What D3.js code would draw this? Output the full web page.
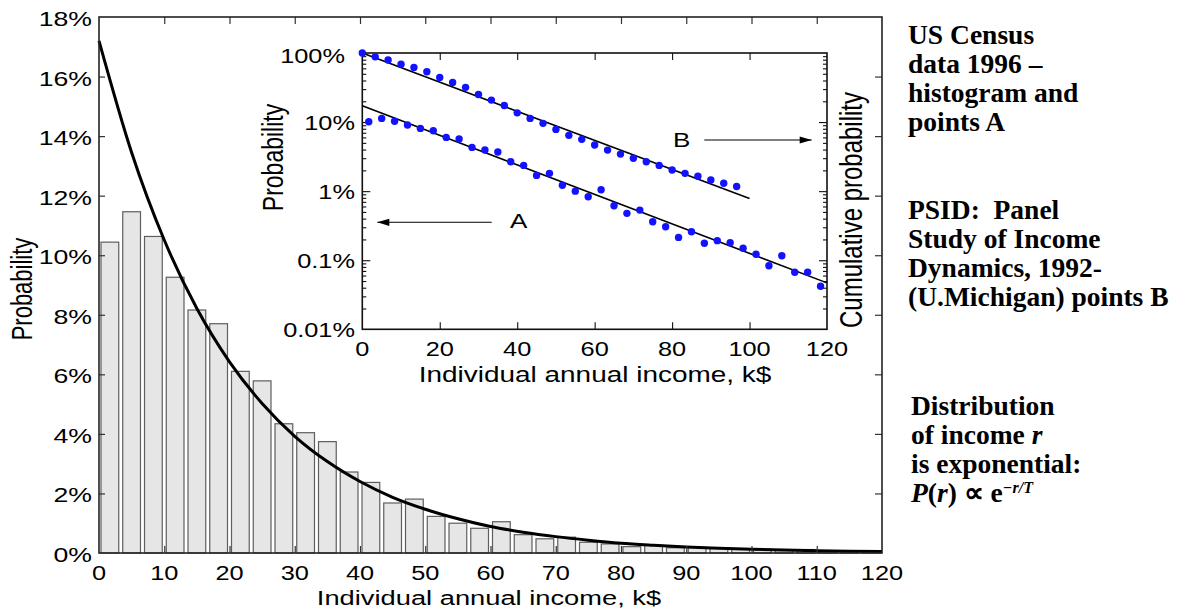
<!DOCTYPE html>
<html><head><meta charset="utf-8">
<script src="https://cdn.jsdelivr.net/npm/d3@7"></script>
<style>body{margin:0;background:#fff} svg{display:block}</style>
</head><body>
<svg id="c" width="1180" height="612"></svg>
<script>
// ---------- data ----------
const binStart = [0, 3.333, 6.667, 10, 13.333, 16.667, 20, 23.333, 26.667, 30, 33.333, 36.667,
  40, 43.333, 46.667, 50, 53.333, 56.667, 60, 63.333, 66.667, 70, 73.333, 76.667,
  80, 83.333, 86.667, 90, 93.333, 96.667, 100, 103.333, 106.667, 110, 113.333, 116.667];
const binWidth = 3.333;
const histPct = [10.44, 11.46, 10.63, 9.26, 8.16, 7.70, 6.10, 5.78, 4.34, 4.04, 3.74, 2.72,
  2.37, 1.68, 1.81, 1.23, 1.00, 0.83, 1.05, 0.615, 0.477, 0.532, 0.361, 0.305,
  0.214, 0.259, 0.176, 0.192, 0.179, 0.149, 0.122, 0.083, 0.116, 0.067, 0.067, 0.042];

const curveX = [0, 5, 10, 15, 20, 25, 30, 35, 40, 45, 50, 55, 60, 65, 70, 75, 80, 85, 90, 95, 100, 105, 110, 115, 120];
const curveY = [17.2, 13.45, 10.51, 8.21, 6.42, 5.02, 3.92, 3.07, 2.40, 1.87, 1.47, 1.15, 0.89, 0.70, 0.55, 0.43, 0.33, 0.26, 0.20, 0.16, 0.125, 0.098, 0.076, 0.060, 0.047];

const pointsAx = [1.667, 5, 8.333, 11.667, 15, 18.333, 21.667, 25, 28.333, 31.667, 35, 38.333,
  41.667, 45, 48.333, 51.667, 55, 58.333, 61.667, 65, 68.333, 71.667, 75, 78.333,
  81.667, 85, 88.333, 91.667, 95, 98.333, 101.667, 105, 108.333, 111.667, 115, 118.333];
const pointsAy = [10.1, 11.3, 10.3, 9.06, 8.1, 7.48, 6.0, 5.68, 4.3, 3.94, 3.68, 2.67,
  2.36, 1.69, 1.81, 1.22, 1.0, 0.83, 1.05, 0.615, 0.477, 0.532, 0.361, 0.305,
  0.214, 0.259, 0.176, 0.192, 0.179, 0.149, 0.122, 0.083, 0.116, 0.067, 0.067, 0.042];

const pointsBx = [0, 3.333, 6.667, 10, 13.333, 16.667, 20, 23.333, 26.667, 30, 33.333, 36.667,
  40, 43.333, 46.667, 50, 53.333, 56.667, 60, 63.333, 66.667, 70, 73.333, 76.667,
  80, 83.333, 86.667, 90, 93.333, 96.667];
const pointsBy = [100, 88, 79, 69, 61.8, 53.5, 44.3, 37.5, 31.8, 25.1, 20.8, 17.4,
  13.6, 11.3, 9.58, 7.84, 6.42, 5.62, 4.65, 3.93, 3.44, 2.99, 2.67, 2.36,
  2.02, 1.81, 1.65, 1.45, 1.30, 1.17];

const fitAx = [0, 120], fitAy = [17.2, 0.047];
const fitBx = [0, 100], fitBy = [100, 0.78];

const mainXTicks = [0, 10, 20, 30, 40, 50, 60, 70, 80, 90, 100, 110, 120];
const mainYTicks = [0, 2, 4, 6, 8, 10, 12, 14, 16, 18];
const insetXTicks = [0, 20, 40, 60, 80, 100, 120];
const insetYTicks = [0.01, 0.1, 1, 10, 100];
const insetYLabels = ["0.01%", "0.1%", "1%", "10%", "100%"];

const noteBlocks = [
  ["US Census", "data 1996 \u2013", "histogram and", "points A"],
  ["PSID:  Panel", "Study of Income", "Dynamics, 1992-", "(U.Michigan) points B"],
  ["Distribution", "of income ", "is exponential:", ""]
];

// ---------- layout ----------
const SX = 1.3; // horizontal stretch of the sans-serif lettering
const svg = d3.select("#c");
const xM = d3.scaleLinear([0, 120], [99, 882]);
const yM = d3.scaleLinear([0, 18], [553, 17]);
const xI = d3.scaleLinear([0, 120], [362.3, 827]);
const yI = d3.scaleLog([0.01, 100], [329.3, 53]);
const SANS = "'Liberation Sans', Arial, Helvetica, sans-serif";

function stext(g, x, y, str, size, anchor, rot) {
  return g.append("text")
    .attr("transform", `translate(${x},${y}) scale(${SX},1)` + (rot ? " rotate(-90)" : ""))
    .attr("text-anchor", anchor)
    .style("font-family", SANS).style("font-size", size + "px").attr("fill", "#000")
    .text(str);
}

// ---------- main histogram ----------
const gm = svg.append("g");
gm.selectAll("rect.bar").data(histPct).join("rect").attr("class", "bar")
  .attr("x", (d, i) => xM(binStart[i]) + 2)
  .attr("width", (d, i) => xM(binStart[i] + binWidth) - xM(binStart[i]) - 4)
  .attr("y", d => yM(d))
  .attr("height", d => yM(0) - yM(d))
  .attr("fill", "#e6e6e6").attr("stroke", "#5e5e5e").attr("stroke-width", 1.2);

const curveData = curveX.map((x, i) => [x, curveY[i]]);
gm.append("path").datum(curveData)
  .attr("d", d3.line().x(d => xM(d[0])).y(d => yM(d[1])).curve(d3.curveMonotoneX))
  .attr("fill", "none").attr("stroke", "#000").attr("stroke-width", 3);

// main ticks (inward)
function ticksOnly(axis, tf) {
  const g = gm.append("g").attr("transform", tf).call(axis);
  g.select(".domain").remove();
  g.selectAll("text").remove();
  g.selectAll("line").attr("stroke", "#333").attr("stroke-width", 1.2);
}
ticksOnly(d3.axisBottom(xM).tickValues(mainXTicks.slice(1, -1)).tickSize(-7), `translate(0,${yM(0)})`);
ticksOnly(d3.axisTop(xM).tickValues(mainXTicks.slice(1, -1)).tickSize(-7), `translate(0,${yM(18)})`);
ticksOnly(d3.axisLeft(yM).tickValues(mainYTicks.slice(1, -1)).tickSize(-6), `translate(${xM(0)},0)`);
ticksOnly(d3.axisRight(yM).tickValues(mainYTicks.slice(1, -1)).tickSize(-7), `translate(${xM(120)},0)`);

gm.append("rect").attr("x", xM(0)).attr("y", yM(18))
  .attr("width", xM(120) - xM(0)).attr("height", yM(0) - yM(18))
  .attr("fill", "none").attr("stroke", "#222").attr("stroke-width", 1.6);

mainXTicks.forEach(t => stext(gm, xM(t), 580, String(t), 19.5, "middle"));
mainYTicks.forEach(t => stext(gm, 92, yM(t) + 9, t + "%", 20.5, "end"));
stext(gm, 489, 605, "Individual annual income, k$", 21, "middle");
stext(gm, 32, 289, "Probability", 22, "middle", true);

// ---------- inset ----------
const gi = svg.append("g");
gi.append("rect").attr("x", xI(0)).attr("y", yI(100))
  .attr("width", xI(120) - xI(0)).attr("height", yI(0.01) - yI(100)).attr("fill", "#fff");

function ticksI(axis, tf) {
  const g = gi.append("g").attr("transform", tf).call(axis);
  g.select(".domain").remove();
  g.selectAll("text").remove();
  g.selectAll("line").attr("stroke", "#111").attr("stroke-width", 1.1);
}
const minor = [];
[0.01, 0.1, 1, 10].forEach(d => { for (let k = 2; k <= 9; k++) minor.push(d * k); });
ticksI(d3.axisLeft(yI).tickValues(minor).tickSize(-4), `translate(${xI(0)},0)`);
ticksI(d3.axisLeft(yI).tickValues(insetYTicks.slice(1, -1)).tickSize(-8), `translate(${xI(0)},0)`);
ticksI(d3.axisRight(yI).tickValues(minor).tickSize(-4), `translate(${xI(120)},0)`);
ticksI(d3.axisRight(yI).tickValues(insetYTicks.slice(1, -1)).tickSize(-8), `translate(${xI(120)},0)`);
ticksI(d3.axisBottom(xI).tickValues(insetXTicks.slice(1, -1)).tickSize(-7), `translate(0,${yI(0.01)})`);
ticksI(d3.axisTop(xI).tickValues(insetXTicks.slice(1, -1)).tickSize(-7), `translate(0,${yI(100)})`);

gi.append("rect").attr("x", xI(0)).attr("y", yI(100))
  .attr("width", xI(120) - xI(0)).attr("height", yI(0.01) - yI(100))
  .attr("fill", "none").attr("stroke", "#111").attr("stroke-width", 1.6);

const lineI = d3.line().x(d => xI(d[0])).y(d => yI(d[1]));
gi.append("path").datum(fitAx.map((x, i) => [x, fitAy[i]])).attr("d", lineI)
  .attr("fill", "none").attr("stroke", "#000").attr("stroke-width", 1.6);
gi.append("path").datum(fitBx.map((x, i) => [x, fitBy[i]])).attr("d", lineI)
  .attr("fill", "none").attr("stroke", "#000").attr("stroke-width", 1.6);

const BLUE = "#1212ff";
gi.selectAll("circle.a").data(pointsAy).join("circle").attr("class", "a")
  .attr("cx", (d, i) => xI(pointsAx[i])).attr("cy", d => yI(d)).attr("r", 3.7).attr("fill", BLUE);
gi.selectAll("circle.b").data(pointsBy).join("circle").attr("class", "b")
  .attr("cx", (d, i) => xI(pointsBx[i])).attr("cy", d => yI(d)).attr("r", 3.7).attr("fill", BLUE);

insetXTicks.forEach(t => stext(gi, xI(t), 356, String(t), 19.5, "middle"));
insetYTicks.forEach((t, i) => {
  const top = t === 100;
  stext(gi, top ? 345 : 355, yI(t) + (top ? 10 : 8), insetYLabels[i], 19.5, "end");
});
stext(gi, 595, 382, "Individual annual income, k$", 21.5, "middle");
stext(gi, 283, 157.5, "Probability", 23, "middle", true);
stext(gi, 862, 210, "Cumulative probability", 24, "middle", true);

// arrows
function arrow(x1, x2, y) {
  gi.append("line").attr("x1", x1).attr("x2", x2).attr("y1", y).attr("y2", y)
    .attr("stroke", "#000").attr("stroke-width", 1.1);
  const dir = x2 > x1 ? 1 : -1;
  gi.append("path").attr("d", `M${x2},${y} L${x2 - dir * 12},${y - 3.6} L${x2 - dir * 12},${y + 3.6} Z`).attr("fill", "#000");
}
arrow(491.7, 377.3, 222.3);
stext(gi, 518.7, 228.3, "A", 20, "middle");
arrow(704.3, 811.7, 140);
stext(gi, 681.7, 147.3, "B", 20, "middle");

// ---------- notes on the right ----------
const gn = svg.append("g").style("font-family", "'Liberation Serif', 'Times New Roman', serif")
  .style("font-weight", "bold").style("font-size", "27.5px").attr("fill", "#000");
const blockTop = [44.3, 219, 415];
const blockX = [908, 908, 911];
const LH = 29;
noteBlocks.forEach((lines, b) => {
  lines.forEach((s, j) => {
    const t = gn.append("text").attr("x", blockX[b]).attr("y", blockTop[b] + j * LH)
      .style("white-space", "pre");
    if (b === 2 && j === 1) {
      t.append("tspan").text(s);
      t.append("tspan").style("font-style", "italic").text("r");
    } else if (b === 2 && j === 3) {
      t.append("tspan").style("font-style", "italic").text("P");
      t.append("tspan").text("(");
      t.append("tspan").style("font-style", "italic").text("r");
      t.append("tspan").text(") \u221D e");
      t.append("tspan").attr("dy", -9).style("font-size", "16px").style("font-style", "italic").text("\u2212r/T");
    } else {
      t.text(s);
    }
  });
});
</script>
</body></html>
